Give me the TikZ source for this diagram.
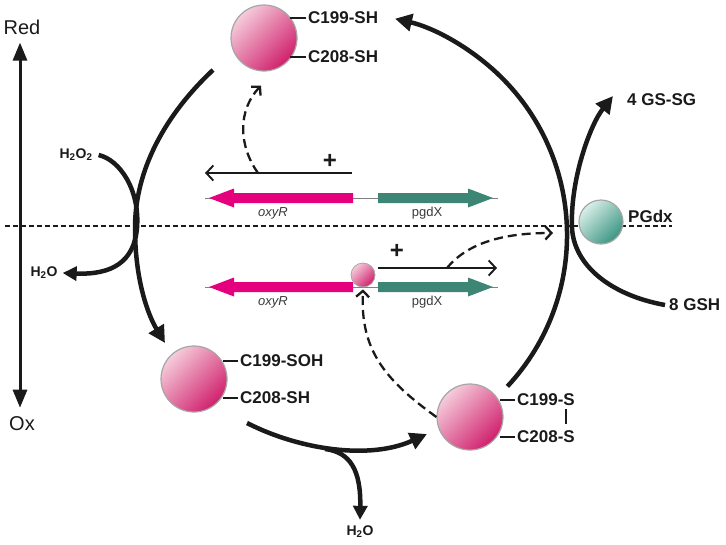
\documentclass[tikz,border=0pt]{standalone}
\usepackage{fontspec}
\setmainfont{Liberation Sans}
\usetikzlibrary{arrows.meta}
\definecolor{mag}{HTML}{E5007D}
\definecolor{tealg}{HTML}{3D8575}
\definecolor{pinkL}{HTML}{F5CCDB}
\definecolor{pinkD}{HTML}{D0206C}
\definecolor{tealL}{HTML}{D8F0E8}
\definecolor{tealD}{HTML}{3C9482}
\definecolor{ink}{HTML}{1A1A1A}
\definecolor{genetxt}{HTML}{3A3A3A}
\begin{document}
\begin{tikzpicture}[x=1pt,y=-1pt,
  thickline/.style={line width=4.5pt, draw=ink},
  bigtip/.style={-{Triangle[length=17pt,width=17pt]}},
  midtip/.style={-{Triangle[length=14pt,width=14pt]}},
  dasharr/.style={line width=2.3pt, draw=ink, dash pattern=on 9pt off 5pt, -{Straight Barb[length=6pt,width=13pt]}},
  promarr/.style={line width=1.9pt, draw=ink, -{Straight Barb[length=7pt,width=15pt]}},
  ball/.style={circle, draw=gray!70, line width=1.2pt, inner sep=0pt, top color=pinkL, bottom color=pinkD, shading angle=45},
  tball/.style={circle, draw=gray!70, line width=1.2pt, inner sep=0pt, top color=tealL, bottom color=tealD, shading angle=45},
  lab/.style={font=\bfseries\fontsize{17}{17}\selectfont, anchor=west, inner sep=0pt, text=ink},
  chem/.style={font=\bfseries\fontsize{14}{14}\selectfont, inner sep=0pt, text=ink},
  genelab/.style={font=\fontsize{13}{13}\selectfont, inner sep=0pt, text=genetxt},
  ticks/.style={line width=2pt, draw=ink},
  plus/.style={font=\bfseries\fontsize{24}{24}\selectfont, inner sep=0pt, text=ink},
]
\useasboundingbox (0,0) rectangle (726,544);

% Red / Ox axis
\node[font=\fontsize{20}{20}\selectfont, text=ink, inner sep=0pt] (red) at (22,27) {Red};
\node[font=\fontsize{20}{20}\selectfont, text=ink, inner sep=0pt] (ox) at (22,424) {Ox};
\draw[line width=3pt, draw=ink, {Triangle[length=18pt,width=14pt]}-{Triangle[length=18pt,width=14pt]}] ([yshift=-8pt]red.south -| 20,0) -- ([yshift=9pt]ox.north -| 20,0);

% dashed separation line
\coordinate (dl) at (5,226);
\coordinate (dr) at (672,226);
\draw[line width=2.1pt, draw=ink, dash pattern=on 5pt off 3pt] (dl) -- (dr);

% gene maps
\draw[gray, line width=0.8pt] (205,198) -- (498,198);
\draw[gray, line width=0.8pt] (205,287) -- (498,287);
\fill[mag] (353,193) -- (234,193) -- (234,188.5) -- (209,198) -- (234,207.5) -- (234,203) -- (353,203) -- cycle;
\fill[tealg] (378,193) -- (468,193) -- (468,188.5) -- (493,198) -- (468,207.5) -- (468,203) -- (378,203) -- cycle;
\fill[mag] (353,282) -- (234,282) -- (234,277.5) -- (209,287) -- (234,296.5) -- (234,292) -- (353,292) -- cycle;
\fill[tealg] (378,282) -- (468,282) -- (468,277.5) -- (493,287) -- (468,296.5) -- (468,292) -- (378,292) -- cycle;
\node[genelab, font=\itshape\fontsize{13}{13}\selectfont] (oxyR1) at (273,213) {oxyR};
\node[genelab] (pgdX1) at (427,213) {pgdX};
\node[genelab, font=\itshape\fontsize{13}{13}\selectfont] (oxyR2) at (273,302) {oxyR};
\node[genelab] (pgdX2) at (427,302) {pgdX};

% promoter arrows
\coordinate (p1s) at (352,173);
\coordinate (p1e) at (205,173);
\draw[promarr] (p1s) -- (p1e);
\node[plus] (plus1) at (330,161) {+};
\coordinate (p2s) at (378,268);
\coordinate (p2e) at (497,268);
\draw[promarr] (p2s) -- (p2e);
\node[plus] (plus2) at (397,251) {+};

% spheres
\node[ball, minimum size=66pt] (s1) at (264,38) {};
\node[ball, minimum size=66pt] (s2) at (194,379) {};
\node[ball, minimum size=66pt] (s3) at (470,417) {};
\node[ball, minimum size=24pt, line width=0.8pt] (s4) at (363,275) {};

% sphere labels
\node[lab] (l1a) at (308,18) {C199-SH};
\node[lab] (l1b) at (308,57) {C208-SH};
\draw[ticks] ([xshift=-2pt]l1a.west) -- ++(-16,0);
\draw[ticks] ([xshift=-2pt]l1b.west) -- ++(-16,0);
\node[lab] (l2a) at (240,361) {C199-SOH};
\node[lab] (l2b) at (240,398) {C208-SH};
\draw[ticks] ([xshift=-2pt]l2a.west) -- ++(-15,0);
\draw[ticks] ([xshift=-2pt]l2b.west) -- ++(-15,0);
\node[lab] (l3a) at (517,400) {C199-S};
\node[lab] (l3b) at (517,437) {C208-S};
\draw[ticks] ([xshift=-2pt]l3a.west) -- ++(-15,0);
\draw[ticks] ([xshift=-2pt]l3b.west) -- ++(-15,0);
\coordinate (bar1) at (566,409);
\coordinate (bar2) at (566,424);
\draw[ticks] (bar1) -- (bar2);

% big cycle arcs
\coordinate (a1) at (213,70);
\coordinate (a2) at (135,228);
\coordinate (a3) at (165,343);
\draw[thickline, bigtip] (a1) .. controls (165,115) and (135,170) .. (a2) .. controls (135,280) and (148,315) .. (a3);
\coordinate (b1) at (507.4,386.4);
\draw[thickline, bigtip] (b1) arc[start angle=-43, end angle=77, radius=222pt];

% H2O2 -> H2O
\node[chem] (h2o2) at (76,155) {H\textsubscript{2}O\textsubscript{2}};
\node[chem] (h2oa) at (44,273) {H\textsubscript{2}O};
\draw[thickline, midtip] ([xshift=6pt]h2o2.east) .. controls (120,160) and (140,190) .. (137,228) .. controls (134,262) and (112,275) .. ([xshift=5pt]h2oa.east);

% SOH -> disulfide, releasing H2O
\coordinate (c1) at (247,423);
\coordinate (c2) at (427,434);
\draw[thickline, bigtip] (c1) .. controls (300,450) and (370,460) .. (c2);
\node[chem] (h2ob) at (360,532) {H\textsubscript{2}O};
\coordinate (c3) at (325,449);
\draw[thickline, midtip] (c3) .. controls (350,452) and (361,470) .. ([yshift=6pt]h2ob.north);

% PGdx and glutathione
\node[tball, minimum size=44pt] (pg) at (601,222) {};
\node[lab, anchor=base west] (pglab) at (628,222) {PGdx};
\node[lab] (gssg) at (627,100) {4 GS-SG};
\node[lab] (gsh) at (669,305) {8 GSH};
\coordinate (g2) at (572,228);
\draw[thickline, bigtip] ([xshift=-4pt]gsh.west) .. controls (610,295) and (574,265) .. (g2) .. controls (570,180) and (590,125) .. ([xshift=-14pt,yshift=4pt]gssg.west);

% dashed regulatory arrows
\coordinate (d1s) at (258,173);
\draw[dasharr] (d1s) .. controls (238,145) and (238,110) .. ([xshift=-3pt,yshift=-14pt]s1.south);
\coordinate (d2s) at (447,268);
\coordinate (d2e) at (553,233);
\draw[dasharr] (d2s) .. controls (470,240) and (510,233) .. (d2e);
\draw[dasharr] (s3.west) .. controls (385,380) and (360,350) .. ([yshift=-2pt]s4.south);
\end{tikzpicture}
\end{document}
